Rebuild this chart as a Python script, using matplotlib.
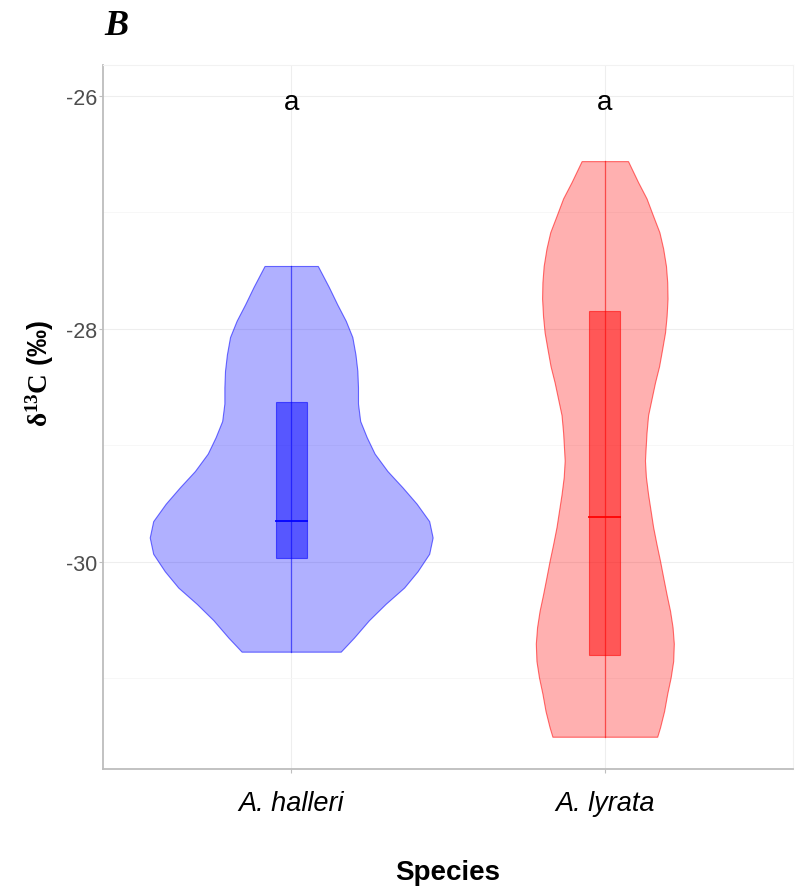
import numpy as np
import matplotlib
matplotlib.use("Agg")
import matplotlib.pyplot as plt
from matplotlib.ticker import MultipleLocator

plt.rcParams["font.family"] = ["Liberation Sans", "DejaVu Sans"]
plt.rcParams["mathtext.fontset"] = "custom"
plt.rcParams["mathtext.bf"] = "Liberation Serif:bold"
plt.rcParams["mathtext.rm"] = "Liberation Serif"

species = ["A. halleri", "A. lyrata"]
colors = ["#0000FF", "#FF0000"]
letters = ["a", "a"]

# violin outlines: d13C level and half width of the density at that level
halleri_y = [-27.46, -27.64, -27.79, -27.93, -28.07, -28.22, -28.36, -28.50, -28.64,
             -28.79, -28.93, -29.07, -29.22, -29.36, -29.50, -29.65, -29.79, -29.93,
             -30.08, -30.22, -30.36, -30.50, -30.65, -30.77]
halleri_w = [0.085, 0.120, 0.147, 0.174, 0.195, 0.205, 0.211, 0.213, 0.213,
             0.220, 0.241, 0.266, 0.307, 0.355, 0.400, 0.440, 0.451, 0.440,
             0.403, 0.360, 0.301, 0.248, 0.200, 0.158]

lyrata_y = [-26.56, -26.74, -26.88, -27.03, -27.17, -27.31, -27.46, -27.60, -27.74,
            -27.89, -28.03, -28.17, -28.32, -28.46, -28.60, -28.74, -28.89, -29.03,
            -29.13, -29.27, -29.42, -29.56, -29.70, -29.85, -29.99, -30.13, -30.28,
            -30.42, -30.56, -30.70, -30.85, -30.99, -31.13, -31.28, -31.42, -31.50]
lyrata_w = [0.074, 0.106, 0.133, 0.154, 0.174, 0.186, 0.195, 0.199, 0.200,
            0.197, 0.192, 0.183, 0.173, 0.160, 0.149, 0.138, 0.133, 0.130,
            0.128, 0.131, 0.138, 0.146, 0.154, 0.165, 0.176, 0.186, 0.197,
            0.208, 0.216, 0.220, 0.218, 0.210, 0.199, 0.189, 0.176, 0.167]

# box summaries: min, q1, median, q3, max
box_min = [-30.77, -31.50]
box_q1 = [-29.97, -30.80]
box_med = [-29.65, -29.61]
box_q3 = [-28.63, -27.85]
box_max = [-27.46, -26.56]

profiles = [(halleri_y, halleri_w), (lyrata_y, lyrata_w)]

fig = plt.figure(figsize=(7.95, 8.95), dpi=100)
ax = fig.add_axes([103 / 795, 1 - 770 / 895, (793 - 103) / 795, (770 - 66) / 895])

positions = np.arange(1, len(species) + 1)
box_w = 0.1

for i, (pos, col) in enumerate(zip(positions, colors)):
    yy = np.array(profiles[i][0])
    ww = np.array(profiles[i][1])
    ax.fill_betweenx(yy, pos - ww, pos + ww, facecolor=matplotlib.colors.to_rgba(col, 0.31),
                     edgecolor=matplotlib.colors.to_rgba(col, 0.55), linewidth=0.8,
                     joinstyle="round", zorder=2)
    # whisker
    ax.plot([pos, pos], [box_min[i], box_max[i]], color=col, alpha=0.55, lw=0.9, zorder=3)
    # box
    ax.add_patch(plt.Rectangle((pos - box_w / 2, box_q1[i]), box_w, box_q3[i] - box_q1[i],
                               facecolor=matplotlib.colors.to_rgba(col, 0.5),
                               edgecolor=matplotlib.colors.to_rgba(col, 0.55), lw=0.8, zorder=4))
    ax.plot([pos - box_w / 2, pos + box_w / 2], [box_med[i], box_med[i]], color=col,
            lw=1.4, alpha=0.9, zorder=5)
    ax.text(pos, -26.055, letters[i], ha="center", va="center", fontsize=20, color="black")

ax.set_xlim(0.4, 2.6)
ax.set_ylim(-31.777, -25.735)
ax.set_xticks(positions)
ax.set_xticklabels(species, fontstyle="italic", fontsize=19.5, color="black")
ax.set_yticks([-30, -28, -26])
ax.set_yticklabels(["-30", "-28", "-26"], fontsize=15.5, color="#4D4D4D")
ax.yaxis.set_minor_locator(MultipleLocator(1))

ax.grid(True, which="major", color="#EEEEEE", lw=0.8, zorder=0)
ax.grid(True, which="minor", axis="y", color="#F6F6F6", lw=0.6, zorder=0)
ax.set_axisbelow(True)
ax.tick_params(axis="both", which="major", length=3, width=0.8, color="#BEBEBE")
ax.tick_params(axis="y", which="major", pad=1)
ax.tick_params(axis="x", which="major", pad=12)
ax.tick_params(which="minor", length=0)

for side in ["left", "bottom"]:
    ax.spines[side].set_color("#BDBDBD")
    ax.spines[side].set_linewidth(1.3)
for side in ["top", "right"]:
    ax.spines[side].set_color("#F2F2F2")
    ax.spines[side].set_linewidth(0.8)

fig.text(447.5 / 795, 1 - 873 / 895, "Species", ha="center", va="center",
         fontsize=20, fontweight="bold")
fig.text(40 / 795, 1 - 374 / 895, r"$\mathbf{δ^{13}C}$ (‰)", rotation=90,
         ha="center", va="center", fontsize=19.5, fontweight="bold")
fig.text(104 / 795, 1 - 35 / 895, "B", ha="left", va="baseline", fontsize=26,
         fontweight="bold", fontstyle="italic", family="Liberation Serif")

fig.savefig("out.png", dpi=100)
